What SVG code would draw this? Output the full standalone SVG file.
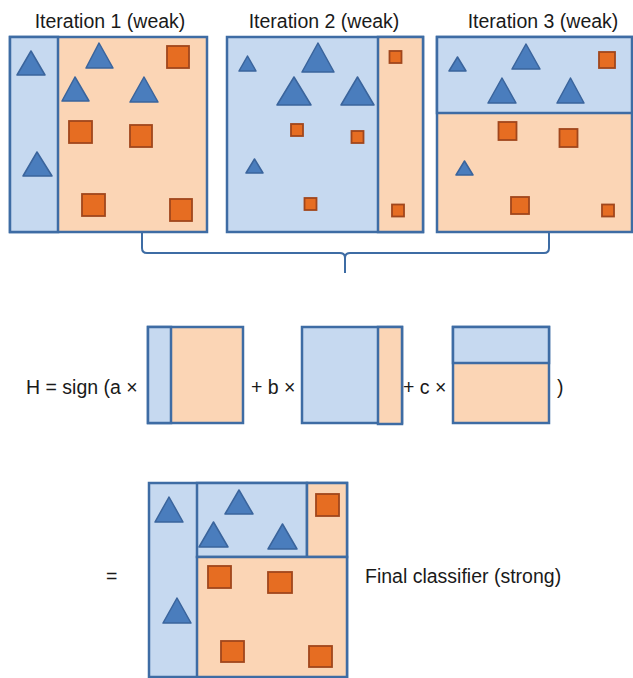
<svg xmlns="http://www.w3.org/2000/svg" width="633" height="678" viewBox="0 0 633 678">
<style>
.b{fill:#c6d9f0;stroke:#3e6ca4;stroke-width:2.5}
.p{fill:#fbd5b5;stroke:#3e6ca4;stroke-width:2.5}
.t{fill:#4a7dbd;stroke:#3a649c;stroke-width:1.5;stroke-linejoin:round}
.s{fill:#e66d22;stroke:#a0461c;stroke-width:1.8}
.lbl{font-family:"Liberation Sans",Arial,sans-serif;font-size:19.5px;fill:#1a1a1a}
.br{fill:none;stroke:#3e6ca4;stroke-width:2}
</style>
<rect width="633" height="678" fill="#fff"/>
<g id="title1"><text class="lbl" x="110" y="28" text-anchor="middle">Iteration 1 (weak)</text></g>
<g id="title2"><text class="lbl" x="324" y="28" text-anchor="middle">Iteration 2 (weak)</text></g>
<g id="title3"><text class="lbl" x="543" y="28" text-anchor="middle">Iteration 3 (weak)</text></g>
<g id="panel1">
<rect class="p" x="10" y="37" width="197" height="195"/>
<rect class="b" x="10" y="37" width="48" height="195"/>
<polygon class="t" points="31,51 17,75 45,75"/>
<polygon class="t" points="99,43 86,68 113,68"/>
<polygon class="t" points="75,77 62,101 89,101"/>
<polygon class="t" points="144,77 130,102 158,102"/>
<polygon class="t" points="37,152 23,176 52,176"/>
<rect class="s" x="167" y="46" width="22" height="22"/>
<rect class="s" x="69" y="121" width="23" height="22"/>
<rect class="s" x="130" y="125" width="22" height="22"/>
<rect class="s" x="82" y="194" width="23" height="22"/>
<rect class="s" x="170" y="199" width="22" height="22"/>
</g>
<g id="panel2">
<rect class="b" x="227" y="37" width="196" height="195"/>
<rect class="p" x="378" y="37" width="45" height="195"/>
<polygon class="t" points="247.5,56 239,71 256,71"/>
<polygon class="t" points="318,43 302,72 334,72"/>
<polygon class="t" points="294,77 277,105 311,105"/>
<polygon class="t" points="357.5,77 341,105 374,105"/>
<polygon class="t" points="254.5,159 246,173 263,173"/>
<rect class="s" x="389.5" y="51" width="12" height="12"/>
<rect class="s" x="291" y="124" width="12" height="12"/>
<rect class="s" x="351.5" y="131" width="12" height="12"/>
<rect class="s" x="304.5" y="198" width="12" height="12"/>
<rect class="s" x="392" y="204.5" width="12" height="12"/>
</g>
<g id="panel3">
<rect class="p" x="437" y="37" width="195" height="195"/>
<rect class="b" x="437" y="37" width="195" height="76"/>
<polygon class="t" points="457.5,57 449,71 466,71"/>
<polygon class="t" points="526,44 512,69 540,69"/>
<polygon class="t" points="502,78 488,103 516,103"/>
<polygon class="t" points="570.5,78 557,103 584,103"/>
<polygon class="t" points="464.5,161 456,175 473,175"/>
<rect class="s" x="599" y="52" width="16" height="16"/>
<rect class="s" x="498.5" y="122" width="18" height="18"/>
<rect class="s" x="559.5" y="129" width="18" height="18"/>
<rect class="s" x="511" y="197" width="18" height="17"/>
<rect class="s" x="602" y="204.5" width="12" height="12"/>
</g>
<g id="connectors">
<path class="br" d="M142,233 L142,248 Q142,253 147,253 L340,253 Q345,253 345,258 L345,273 M345,258 Q345,253 350,253 L544,253 Q549,253 549,248 L549,233"/>
</g>
<g id="formula">
<text class="lbl" x="26" y="394">H = sign (a ×</text>
<rect class="p" x="148" y="327" width="95" height="96"/>
<rect class="b" x="148" y="327" width="23" height="96"/>
<text class="lbl" x="251" y="394">+ b ×</text>
<rect class="b" x="302" y="327" width="100" height="96"/>
<rect class="p" x="378" y="327" width="24" height="97"/>
<text class="lbl" x="403" y="394">+ c ×</text>
<rect class="p" x="453" y="327" width="96" height="96"/>
<rect class="b" x="453" y="327" width="96" height="36"/>
<text class="lbl" x="557" y="394">)</text>
</g>
<g id="final">
<text class="lbl" x="106" y="583">=</text>
<rect class="b" x="149" y="483" width="198" height="194"/>
<rect class="b" x="197" y="483" width="110" height="74"/>
<rect class="p" x="307" y="483" width="40" height="74"/>
<rect class="p" x="197" y="557" width="150" height="120"/>
<polygon class="t" points="169,497 155,522 183,522"/>
<polygon class="t" points="239,490 225,514 253,514"/>
<polygon class="t" points="213.5,522 199,547 228,547"/>
<polygon class="t" points="282.5,524 268,549 297,549"/>
<polygon class="t" points="177,598 163,623 191,623"/>
<rect class="s" x="316" y="494" width="23" height="22"/>
<rect class="s" x="208" y="566" width="23" height="22"/>
<rect class="s" x="268" y="572" width="24" height="21"/>
<rect class="s" x="221" y="641" width="23" height="21"/>
<rect class="s" x="309" y="646" width="23" height="21"/>
<text class="lbl" x="365" y="583">Final classifier (strong)</text>
</g>
</svg>
